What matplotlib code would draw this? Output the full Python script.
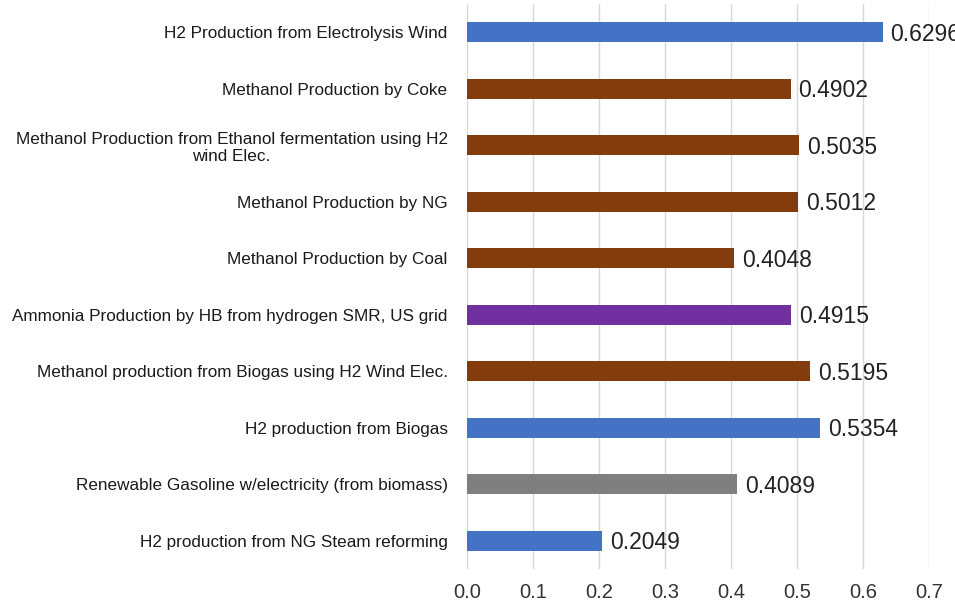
import matplotlib
matplotlib.use("Agg")
import matplotlib.pyplot as plt

plt.rcParams['font.family'] = ['Liberation Sans', 'DejaVu Sans']

categories = [
    "H2 Production from Electrolysis Wind",
    "Methanol Production by Coke",
    "Methanol Production from Ethanol fermentation using H2\nwind Elec.",
    "Methanol Production by NG",
    "Methanol Production by Coal",
    "Ammonia Production by HB from hydrogen SMR, US grid",
    "Methanol production from Biogas using H2 Wind Elec.",
    "H2 production from Biogas",
    "Renewable Gasoline w/electricity (from biomass)",
    "H2 production from NG Steam reforming",
]
values = [0.6296, 0.4902, 0.5035, 0.5012, 0.4048, 0.4915, 0.5195, 0.5354, 0.4089, 0.2049]
colors = ["#4472C4", "#843C0C", "#843C0C", "#843C0C", "#843C0C",
          "#7030A0", "#843C0C", "#4472C4", "#7F7F7F", "#4472C4"]
xticks = [0.0, 0.1, 0.2, 0.3, 0.4, 0.5, 0.6, 0.7]

fig = plt.figure(figsize=(9.55, 6.1), dpi=100)
ax = fig.add_axes([467 / 955, 1 - 569 / 610, (929 - 467) / 955, (569 - 4) / 610])

ypos = list(range(len(categories)))
ax.barh(ypos, values, height=0.36, color=colors, zorder=3)
ax.set_ylim(len(categories) - 0.5, -0.5)
ax.set_xlim(0, 0.7)
ax.set_yticks(ypos)
ax.set_yticklabels(categories, fontsize=12.3, color="#1a1a1a", linespacing=1.2)
ax.set_xticks(xticks)
ax.set_xticklabels([f"{t:.1f}" for t in xticks], fontsize=14.5, color="#333333")
ax.tick_params(axis="y", length=0, pad=14)
ax.tick_params(axis="x", length=0, pad=10)
for lab in ax.get_yticklabels():
    lab.set_multialignment("center")
ax.xaxis.grid(True, color="#D9D9D9", linewidth=1, zorder=0)
for s in ax.spines.values():
    s.set_visible(False)

for y, v in zip(ypos, values):
    ax.text(v + 0.012, y + 0.035, f"{v:.4f}", va="center", ha="left", fontsize=16.5,
            color="#222222", clip_on=False)

fig.savefig("out.png", dpi=100)
